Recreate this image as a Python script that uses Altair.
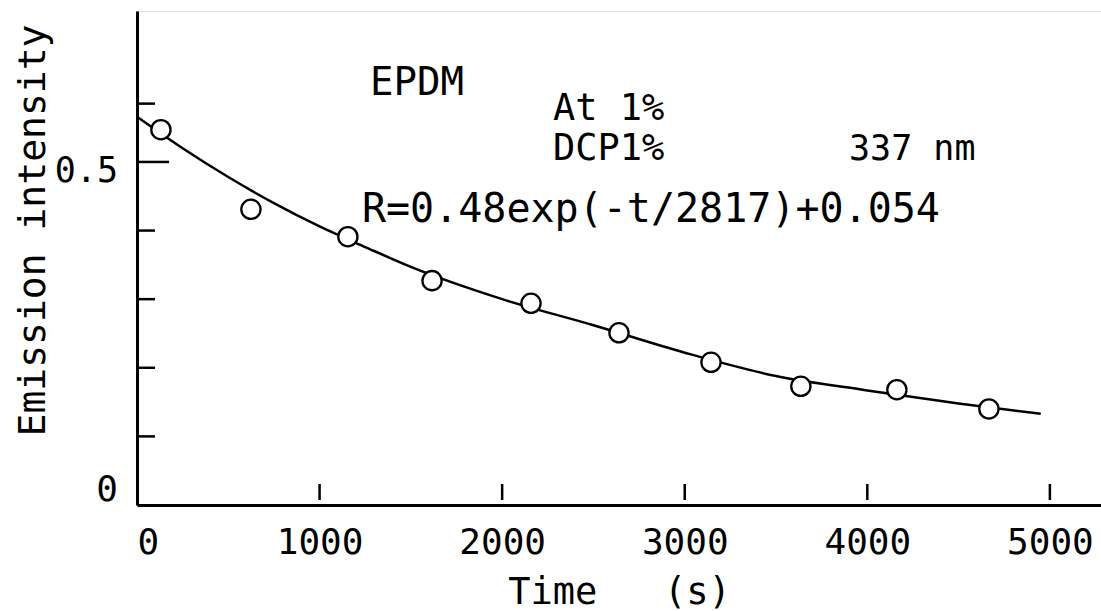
import altair as alt
import pandas as pd

# measured data points (Time s, emission intensity)
pt_time = [131, 624, 1155, 1616, 2158, 2640, 3144, 3636, 4162, 4666]
pt_val = [0.547, 0.431, 0.391, 0.327, 0.294, 0.251, 0.208, 0.173, 0.168, 0.140]

# fitted curve
curve_time = [0, 250, 500, 750, 1000, 1250, 1500, 2000, 2500, 3000, 3500, 4000, 4500, 4950]
curve_val = [0.566, 0.52, 0.478, 0.44, 0.406, 0.376, 0.347, 0.300, 0.262, 0.222, 0.188, 0.167, 0.148, 0.133]

x_tick_vals = [1000, 2000, 3000, 4000, 5000]
x_label_vals = [0, 1000, 2000, 3000, 4000, 5000]
y_minor_ticks = [0.1, 0.2, 0.3, 0.4, 0.585]
y_major_ticks = [0.5]
y_label_vals = [0, 0.5]
y_label_text = ["0", "0.5"]

ann_text = ["EPDM", "At 1%", "DCP1%", "337 nm", "R=0.48exp(-t/2817)+0.054"]
ann_x = [1276, 2278, 2278, 3900, 1232]
ann_y = [0.598, 0.561, 0.503, 0.503, 0.412]
ann_size = [39, 37, 37, 35, 40]

FONT = "DejaVu Sans Mono"
NBSP = "\u00a0"
W, H = 964, 494
XDOM = [0, 5280]
YDOM = [0, 0.72]

xs = alt.Scale(domain=XDOM, nice=False, zero=False)
ys = alt.Scale(domain=YDOM, nice=False)

pts = pd.DataFrame({"t": pt_time, "v": pt_val})
crv = pd.DataFrame({"t": curve_time, "v": curve_val})
xt = pd.DataFrame({"t": x_tick_vals})
ymin = pd.DataFrame({"v": y_minor_ticks})
ymaj = pd.DataFrame({"v": y_major_ticks})
ylab0 = pd.DataFrame({"v": y_label_vals[:1], "label": y_label_text[:1]})
ylab5 = pd.DataFrame({"v": y_label_vals[1:], "label": y_label_text[1:]})
ann = pd.DataFrame({"label": ann_text, "t": ann_x, "v": ann_y, "size": ann_size})

base_axes = alt.Chart(crv).mark_line(stroke="black", strokeWidth=2.5, interpolate="monotone").encode(
    x=alt.X("t:Q", scale=xs, axis=alt.Axis(
        title="Time" + NBSP * 3 + "(s)", values=x_label_vals, format="d",
        ticks=False, tickSize=0, grid=False,
        labelFontSize=36, labelPadding=20, labelFont=FONT, labelColor="black",
        domainColor="black", domainWidth=3,
        titleFont=FONT, titleFontSize=37, titleFontWeight="normal", titleColor="black",
        titleBaseline="alphabetic", titleY=98)),
    y=alt.Y("v:Q", scale=ys, axis=alt.Axis(
        title="Emission intensity", values=y_label_vals, ticks=False, tickSize=0, grid=False,
        labels=False,
        domainColor="black", domainWidth=3,
        titleFont=FONT, titleFontSize=38, titleFontWeight="normal", titleColor="black",
        titleAngle=-90, titleBaseline="alphabetic", titleX=-93, titleY=219, titleAlign="center")),
)

points = alt.Chart(pts).mark_point(shape="circle", size=370, filled=False, fill="white",
                                   fillOpacity=1, stroke="black", strokeWidth=2.3, opacity=1).encode(
    x=alt.X("t:Q", scale=xs), y=alt.Y("v:Q", scale=ys))

xticks = alt.Chart(xt).mark_rule(stroke="black", strokeWidth=2.5).encode(
    x=alt.X("t:Q", scale=xs), y=alt.value(H - 5), y2=alt.value(H - 21))

yticks_min = alt.Chart(ymin).mark_rule(stroke="black", strokeWidth=2.5).encode(
    y=alt.Y("v:Q", scale=ys), x=alt.value(0), x2=alt.value(18))

yticks_maj = alt.Chart(ymaj).mark_rule(stroke="black", strokeWidth=2.5).encode(
    y=alt.Y("v:Q", scale=ys), x=alt.value(0), x2=alt.value(32))

ylabel0 = alt.Chart(ylab0).mark_text(font=FONT, fontSize=36, align="right", baseline="middle",
                                     color="black", dy=-15).encode(
    y=alt.Y("v:Q", scale=ys), x=alt.value(-19), text="label:N")

ylabel5 = alt.Chart(ylab5).mark_text(font=FONT, fontSize=35, align="right", baseline="middle",
                                     color="black", dy=9).encode(
    y=alt.Y("v:Q", scale=ys), x=alt.value(-19), text="label:N")

texts = alt.Chart(ann).mark_text(font=FONT, align="left", baseline="alphabetic",
                                 color="black").encode(
    x=alt.X("t:Q", scale=xs), y=alt.Y("v:Q", scale=ys), text="label:N",
    size=alt.Size("size:Q", scale=None, legend=None))

chart = alt.layer(base_axes, xticks, yticks_min, yticks_maj, points, ylabel0, ylabel5, texts).properties(
    width=W, height=H, autosize="none",
    padding={"left": 137, "top": 11, "right": 0, "bottom": 106},
).configure_view(stroke=None).configure(background="white")

chart.save("out.html", embed_options={"renderer": "svg", "actions": False})
